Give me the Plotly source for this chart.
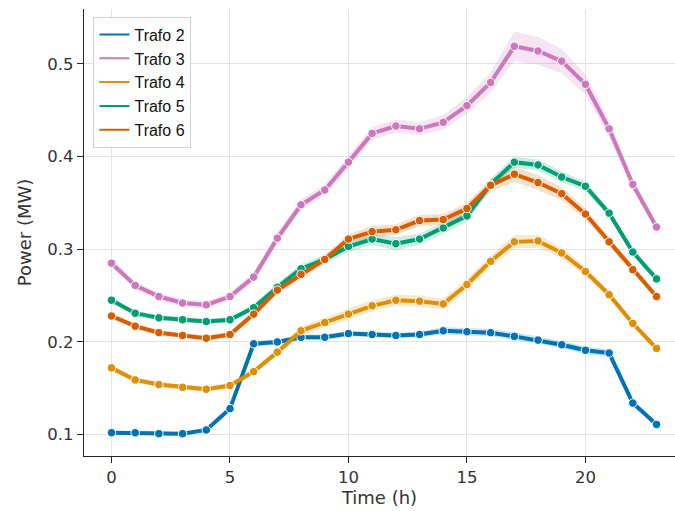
import plotly.graph_objects as go

hours = list(range(24))

trafo2 = [0.102, 0.102, 0.101, 0.101, 0.105, 0.128, 0.198, 0.200, 0.205, 0.205,
          0.209, 0.208, 0.207, 0.208, 0.212, 0.211, 0.210, 0.206, 0.202, 0.197,
          0.191, 0.188, 0.134, 0.111]
trafo3 = [0.285, 0.261, 0.249, 0.242, 0.240, 0.249, 0.270, 0.312, 0.348, 0.364,
          0.394, 0.425, 0.433, 0.430, 0.437, 0.455, 0.480, 0.519, 0.514, 0.503,
          0.478, 0.430, 0.370, 0.324]
trafo4 = [0.172, 0.159, 0.154, 0.151, 0.149, 0.153, 0.168, 0.189, 0.212, 0.221,
          0.230, 0.239, 0.245, 0.244, 0.241, 0.262, 0.287, 0.308, 0.309, 0.296,
          0.276, 0.251, 0.220, 0.193]
trafo5 = [0.245, 0.231, 0.226, 0.224, 0.222, 0.224, 0.237, 0.259, 0.279, 0.289,
          0.303, 0.311, 0.306, 0.311, 0.323, 0.336, 0.370, 0.394, 0.391, 0.378,
          0.368, 0.339, 0.297, 0.268]
trafo6 = [0.228, 0.217, 0.210, 0.207, 0.204, 0.208, 0.230, 0.256, 0.273, 0.289,
          0.311, 0.319, 0.321, 0.331, 0.332, 0.344, 0.369, 0.381, 0.372, 0.360,
          0.338, 0.308, 0.278, 0.249]

ci2 = [0.002, 0.002, 0.002, 0.002, 0.002, 0.003, 0.003, 0.003, 0.003, 0.003,
       0.003, 0.003, 0.003, 0.003, 0.004, 0.004, 0.004, 0.004, 0.004, 0.004,
       0.004, 0.004, 0.003, 0.002]
ci3 = [0.004, 0.004, 0.004, 0.004, 0.004, 0.004, 0.005, 0.006, 0.006, 0.006,
       0.007, 0.007, 0.007, 0.007, 0.008, 0.009, 0.011, 0.016, 0.015, 0.013,
       0.011, 0.009, 0.006, 0.004]
ci4 = [0.003, 0.003, 0.003, 0.003, 0.003, 0.003, 0.003, 0.004, 0.005, 0.005,
       0.006, 0.006, 0.006, 0.006, 0.006, 0.006, 0.006, 0.007, 0.007, 0.006,
       0.005, 0.004, 0.003, 0.003]
ci5 = [0.003, 0.003, 0.003, 0.003, 0.003, 0.003, 0.004, 0.004, 0.005, 0.005,
       0.006, 0.006, 0.007, 0.006, 0.006, 0.006, 0.006, 0.006, 0.006, 0.006,
       0.005, 0.004, 0.003, 0.003]
ci6 = [0.003, 0.003, 0.003, 0.003, 0.003, 0.003, 0.004, 0.004, 0.005, 0.005,
       0.005, 0.006, 0.006, 0.006, 0.006, 0.006, 0.007, 0.008, 0.008, 0.007,
       0.006, 0.005, 0.004, 0.003]

names = ["Trafo 2", "Trafo 3", "Trafo 4", "Trafo 5", "Trafo 6"]
series = [trafo2, trafo3, trafo4, trafo5, trafo6]
cis = [ci2, ci3, ci4, ci5, ci6]
colors = ["#0173b2", "#cc78bc", "#de8f05", "#029e73", "#d55e00"]


def rgba(hex_color, a):
    h = hex_color.lstrip("#")
    r, g, b = int(h[0:2], 16), int(h[2:4], 16), int(h[4:6], 16)
    return f"rgba({r},{g},{b},{a})"


fig = go.Figure()

for name, vals, ci, col in zip(names, series, cis, colors):
    upper = [v + c for v, c in zip(vals, ci)]
    lower = [v - c for v, c in zip(vals, ci)]
    fig.add_trace(go.Scatter(
        x=hours + hours[::-1], y=upper + lower[::-1],
        fill="toself", fillcolor=rgba(col, 0.2), line=dict(width=0),
        mode="lines", hoverinfo="skip", showlegend=False))

for name, vals, col in zip(names, series, colors):
    fig.add_trace(go.Scatter(
        x=hours, y=vals, mode="lines+markers", name=name, showlegend=False,
        line=dict(color=col, width=4),
        marker=dict(color=col, size=8.5, line=dict(color="white", width=1))))

for name, col in zip(names, colors):
    fig.add_trace(go.Scatter(
        x=[None], y=[None], mode="lines", name=name,
        line=dict(color=col, width=2)))

axis_common = dict(
    showgrid=True, gridcolor="#e2e2e2", gridwidth=1,
    showline=True, linecolor="#262626", linewidth=1.3,
    ticks="outside", ticklen=6, tickwidth=1.2, tickcolor="#262626",
    zeroline=False, mirror=False,
    tickfont=dict(family="DejaVu Sans", size=16.5, color="#333333"),
)

fig.update_layout(
    width=675, height=511,
    margin=dict(l=84, r=0, t=9, b=55),
    paper_bgcolor="white", plot_bgcolor="white",
    xaxis=dict(range=[-1.16, 23.78], tickvals=[0, 5, 10, 15, 20],
               title=dict(text="Time (h)", standoff=5,
                          font=dict(family="DejaVu Sans", size=18, color="#333333")),
               **axis_common),
    yaxis=dict(range=[0.0769, 0.5593], tickvals=[0.1, 0.2, 0.3, 0.4, 0.5],
               ticktext=["0.1", "0.2", "0.3", "0.4", "0.5"],
               title=dict(text="Power (MW)", standoff=10,
                          font=dict(family="DejaVu Sans", size=18, color="#333333")),
               **axis_common),
    legend=dict(x=0.016, y=0.983, xanchor="left", yanchor="top",
                bgcolor="white", bordercolor="#d0d0d0", borderwidth=1,
                font=dict(family="Liberation Sans", size=16, color="#111111"),
                tracegroupgap=0, itemwidth=30),
    showlegend=True,
)

fig.write_html("out.html")
